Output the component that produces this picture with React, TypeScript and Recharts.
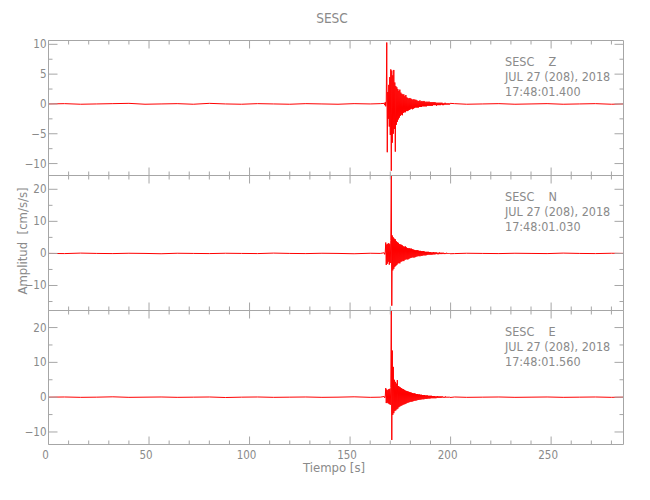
import { LineChart, Line, XAxis, YAxis } from "recharts";

// quiet noise before and after the event (seconds)
const QUIET_T = [0, 8, 16, 24, 32, 40, 48, 56, 64, 72, 80, 88, 96, 104, 112, 120, 128, 136, 144, 152, 160, 165];
const TAIL_T = [202, 208, 216, 224, 232, 240, 248, 256, 264, 272, 280, 286];

// event window: samples every 0.25 s starting at 167 s
const BURST_START = 167;
const BURST_STEP = 0.25;

const zQuiet = [0, 0.05, -0.05, 0, 0.05, 0.1, -0.05, 0, 0.05, -0.05, 0.1, 0, -0.05, 0.05, 0, -0.05, 0.05, 0, -0.05, 0.05, 0, 0.05];
const zTail = [0.05, -0.05, 0, 0.05, -0.05, 0, 0.05, -0.05, 0, 0.05, -0.05, 0];
const zBurst = [
  0.1, -0.2, 0.3, -0.4,
  0.5, 10.3, -8.1, 2.0,
  -2.5, 3.2, -3.8, 4.5,
  -5.2, 5.8, -11.2, 5.6,
  -6.5, 4.8, -5.0, 5.7,
  -4.2, 3.6, -8.0, 3.0,
  -3.5, 2.8, -3.0, 2.5,
  -2.6, 2.2, -2.3, 2.4,
  -2.0, 1.9, -1.8, 1.7,
  -1.9, 1.6, -1.5, 1.6,
  -1.4, 1.3, -1.4, 1.5,
  -1.2, 1.1, -1.2, 1.0,
  -1.1, 0.9, -1.0, 1.0,
  -0.9, 0.9, -0.8, 0.8,
  -0.9, 0.7, -0.8, 0.8,
  -0.7, 0.7, -0.6, 0.7,
  -0.6, 0.6, -0.6, 0.5,
  -0.6, 0.5, -0.5, 0.6,
  -0.5, 0.4, -0.5, 0.5,
  -0.4, 0.4, -0.4, 0.5,
  -0.4, 0.4, -0.4, 0.3,
  -0.4, 0.4, -0.3, 0.3,
  -0.3, 0.4, -0.3, 0.3,
  -0.3, 0.3, -0.3, 0.3,
  -0.3, 0.3, -0.2, 0.3,
  -0.2, 0.3, -0.2, 0.2,
  -0.3, 0.2, -0.2, 0.2,
  -0.2, 0.2, -0.2, 0.2,
  -0.2, 0.2, -0.1, 0.2,
  -0.2, 0.1, -0.2, 0.1,
  -0.1, 0.2, -0.1, 0.1,
  -0.1, 0.1, -0.1, 0.1,
  -0.1, 0.1, -0.1, 0.1,
];

const nQuiet = [0, -0.05, 0.1, 0, -0.05, 0.05, 0, -0.1, 0.05, 0, -0.05, 0.05, 0, -0.05, 0.1, 0, -0.05, 0.05, 0, -0.1, 0.05, 0];
const nTail = [-0.05, 0.05, 0, -0.05, 0.05, 0, -0.05, 0.1, 0, -0.05, 0.05, 0];
const nBurst = [
  0.2, -0.3, 0.4, 3.4,
  -3.6, 2.8, -3.2, 3.0,
  -2.6, 3.2, -3.5, 2.9,
  -3.0, 4.0, 24.2, -16.3,
  5.6, -5.3, 5.0, -4.8,
  4.6, -4.2, 4.4, -3.9,
  3.8, -3.6, 3.5, -3.2,
  3.3, -3.0, 2.9, -3.1,
  2.8, -2.6, 2.7, -2.5,
  2.5, -2.3, 2.2, -2.4,
  2.1, -2.0, 2.2, -1.9,
  1.9, -1.8, 1.7, -1.9,
  1.6, -1.7, 1.6, -1.5,
  1.5, -1.4, 1.5, -1.3,
  1.3, -1.2, 1.2, -1.3,
  1.1, -1.2, 1.0, -1.1,
  1.0, -0.9, 1.0, -0.9,
  0.9, -0.8, 0.8, -0.9,
  0.8, -0.7, 0.7, -0.8,
  0.7, -0.6, 0.7, -0.6,
  0.6, -0.6, 0.5, -0.6,
  0.5, -0.5, 0.5, -0.4,
  0.5, -0.4, 0.4, -0.4,
  0.4, -0.4, 0.3, -0.4,
  0.3, -0.3, 0.4, -0.3,
  0.3, -0.3, 0.3, -0.2,
  0.3, -0.2, 0.2, -0.3,
  0.2, -0.2, 0.3, -0.2,
  0.2, -0.2, 0.2, -0.2,
  0.2, -0.1, 0.2, -0.2,
  0.1, -0.2, 0.1, -0.1,
  0.2, -0.1, 0.1, -0.1,
  0.1, -0.1, 0.1, -0.1,
];

const eQuiet = [0, 0.05, -0.05, 0, 0.1, -0.05, 0, 0.05, -0.05, 0, 0.05, -0.1, 0, 0.05, -0.05, 0, 0.05, -0.05, 0, 0.1, -0.05, 0];
const eTail = [0.05, -0.05, 0, 0.05, -0.05, 0, 0.05, -0.05, 0, 0.05, -0.05, 0];
const eBurst = [
  0.2, -0.2, 0.3, 2.6,
  -1.7, 2.2, -1.6, 2.0,
  -1.8, 2.3, -2.0, 2.4,
  -2.2, 2.8, 24.8, -12.3,
  13.4, -5.1, 8.7, -4.6,
  5.0, -4.0, 4.4, -3.8,
  3.9, -3.5, 4.9, -3.3,
  3.2, -2.9, 3.0, -2.7,
  2.8, -2.5, 2.6, -2.4,
  2.4, -2.2, 2.3, -2.1,
  2.1, -2.0, 1.9, -1.9,
  1.8, -1.7, 1.7, -1.6,
  1.6, -1.5, 1.5, -1.4,
  1.4, -1.3, 1.3, -1.3,
  1.2, -1.2, 1.1, -1.1,
  1.1, -1.0, 1.0, -1.0,
  0.9, -0.9, 0.9, -0.8,
  0.8, -0.8, 0.8, -0.7,
  0.7, -0.7, 0.7, -0.6,
  0.6, -0.6, 0.6, -0.6,
  0.6, -0.5, 0.5, -0.5,
  0.5, -0.5, 0.5, -0.4,
  0.4, -0.4, 0.4, -0.4,
  0.4, -0.3, 0.4, -0.3,
  0.3, -0.3, 0.3, -0.3,
  0.3, -0.3, 0.2, -0.3,
  0.2, -0.2, 0.3, -0.2,
  0.2, -0.2, 0.2, -0.2,
  0.2, -0.2, 0.2, -0.1,
  0.2, -0.1, 0.1, -0.2,
  0.1, -0.1, 0.2, -0.1,
  0.1, -0.1, 0.1, -0.1,
  0.1, -0.1, 0.1, -0.1,
];

const X_TICKS = [0, 10, 20, 30, 40, 50, 60, 70, 80, 90, 100, 110, 120, 130, 140, 150, 160, 170, 180, 190, 200, 210, 220, 230, 240, 250, 260, 270, 280];
const X_MAX = 286;

const FONT = "'Liberation Sans Narrow', 'DejaVu Sans Condensed', 'Arial Narrow', sans-serif";
const AXIS = "#a6a6a6";
const TEXT = "#8a8a8a";
const TRACE = "#ff0000";
const NBSP = "\u00a0";

const PANELS = [
  { comp: "Z", stamp: "17:48:01.400", top: 40.5, bottom: 175.5, domain: [-12, 10.64], yTicks: [-10, -7.5, -5, -2.5, 0, 2.5, 5, 7.5, 10], major: 5, quiet: zQuiet, burst: zBurst, tail: zTail },
  { comp: "N", stamp: "17:48:01.030", top: 175.5, bottom: 310.5, domain: [-17.8, 24.3], yTicks: [-15, -10, -5, 0, 5, 10, 15, 20], major: 10, quiet: nQuiet, burst: nBurst, tail: nTail },
  { comp: "E", stamp: "17:48:01.560", top: 310.5, bottom: 444.5, domain: [-13.6, 24.9], yTicks: [-10, -5, 0, 5, 10, 15, 20], major: 10, quiet: eQuiet, burst: eBurst, tail: eTail },
];

function buildRows(quiet: number[], burst: number[], tail: number[]) {
  return [
    ...QUIET_T.map((t, i) => ({ t, v: quiet[i] })),
    ...burst.map((v, i) => ({ t: BURST_START + i * BURST_STEP, v })),
    ...TAIL_T.map((t, i) => ({ t, v: tail[i] })),
  ];
}

const fmt = (v: number) => (v < 0 ? "\u2212" + Math.abs(v) : String(v));

function XTickMark(props: any) {
  const { x, y, payload, dir, showLabel } = props;
  const major = payload.value % 50 === 0;
  const len = major ? 8 : 4;
  return (
    <g>
      <line x1={x} y1={y} x2={x} y2={y + dir * len} stroke={AXIS} />
      {showLabel && major && (
        <text x={x - 3} y={y + 14} textAnchor="middle" fill={TEXT} fontSize={11.5} fontFamily={FONT}>
          {payload.value}
        </text>
      )}
    </g>
  );
}

function YTickMark(props: any) {
  const { x, y, payload, dir, showLabel, majorStep } = props;
  const major = payload.value % majorStep === 0;
  const len = major ? 9 : 4;
  return (
    <g>
      <line x1={x} y1={y} x2={x + dir * len} y2={y} stroke={AXIS} />
      {showLabel && major && (
        <text x={x - 2} y={y + 4} textAnchor="end" fill={TEXT} fontSize={11.5} fontFamily={FONT}>
          {fmt(payload.value)}
        </text>
      )}
    </g>
  );
}

function Panel({ p, last }: { p: (typeof PANELS)[number]; last: boolean }) {
  const rows = buildRows(p.quiet, p.burst, p.tail);
  return (
    <div style={{ position: "absolute", left: 0, top: 0 }}>
      <LineChart
        width={650}
        height={500}
        data={rows}
        margin={{ top: p.top - 1, bottom: 500 - p.bottom - 1, left: 0.5, right: 0 }}
      >
        <XAxis
          xAxisId="b"
          dataKey="t"
          type="number"
          domain={[0, X_MAX]}
          allowDataOverflow
          orientation="bottom"
          height={1}
          ticks={X_TICKS}
          interval={0}
          tickLine={false}
          tickSize={0}
          tickMargin={0}
          axisLine={{ stroke: AXIS }}
          tick={(tp: any) => <XTickMark {...tp} dir={-1} showLabel={last} />}
        />
        <XAxis
          xAxisId="t"
          dataKey="t"
          type="number"
          domain={[0, X_MAX]}
          allowDataOverflow
          orientation="top"
          height={1}
          ticks={X_TICKS}
          interval={0}
          tickLine={false}
          tickSize={0}
          tickMargin={0}
          axisLine={{ stroke: AXIS }}
          tick={(tp: any) => <XTickMark {...tp} dir={1} showLabel={false} />}
        />
        <YAxis
          yAxisId="l"
          type="number"
          domain={p.domain}
          allowDataOverflow
          width={48}
          ticks={p.yTicks}
          interval={0}
          tickLine={false}
          tickSize={0}
          tickMargin={0}
          axisLine={{ stroke: AXIS }}
          tick={(tp: any) => <YTickMark {...tp} dir={1} showLabel majorStep={p.major} />}
        />
        <YAxis
          yAxisId="r"
          orientation="right"
          type="number"
          domain={p.domain}
          allowDataOverflow
          width={26.5}
          ticks={p.yTicks}
          interval={0}
          tickLine={false}
          tickSize={0}
          tickMargin={0}
          axisLine={{ stroke: AXIS }}
          tick={(tp: any) => <YTickMark {...tp} dir={-1} showLabel={false} majorStep={p.major} />}
        />
        <Line
          xAxisId="b"
          yAxisId="l"
          dataKey="v"
          type="linear"
          stroke={TRACE}
          strokeWidth={1}
          dot={false}
          isAnimationActive={false}
        />
      </LineChart>
    </div>
  );
}

export default function App() {
  return (
    <div style={{ position: "fixed", left: 0, top: 0, width: 650, height: 500, background: "#fff" }}>
      {PANELS.map((p, i) => (
        <Panel key={p.comp} p={p} last={i === PANELS.length - 1} />
      ))}
      <svg width={650} height={500} style={{ position: "absolute", left: 0, top: 0, pointerEvents: "none" }}>
        <g fontFamily={FONT} fill={TEXT}>
          <text x={332} y={23} textAnchor="middle" fontSize={13.5}>SESC</text>
          <text x={334} y={472} textAnchor="middle" fontSize={13}>{`Tiempo${NBSP}[s]`}</text>
          <text x={0} y={0} transform="translate(27 241) rotate(-90)" textAnchor="middle" fontSize={13}>
            {`Amplitud${NBSP}${NBSP}[cm/s/s]`}
          </text>
          {PANELS.map((p) => (
            <g key={p.comp} fontSize={12.5}>
              <text x={505} y={p.top + 25.5}>{`SESC${NBSP}${NBSP}${NBSP}${NBSP}${p.comp}`}</text>
              <text x={505} y={p.top + 40.5}>JUL 27 (208), 2018</text>
              <text x={505} y={p.top + 55.5}>{p.stamp}</text>
            </g>
          ))}
        </g>
      </svg>
    </div>
  );
}
